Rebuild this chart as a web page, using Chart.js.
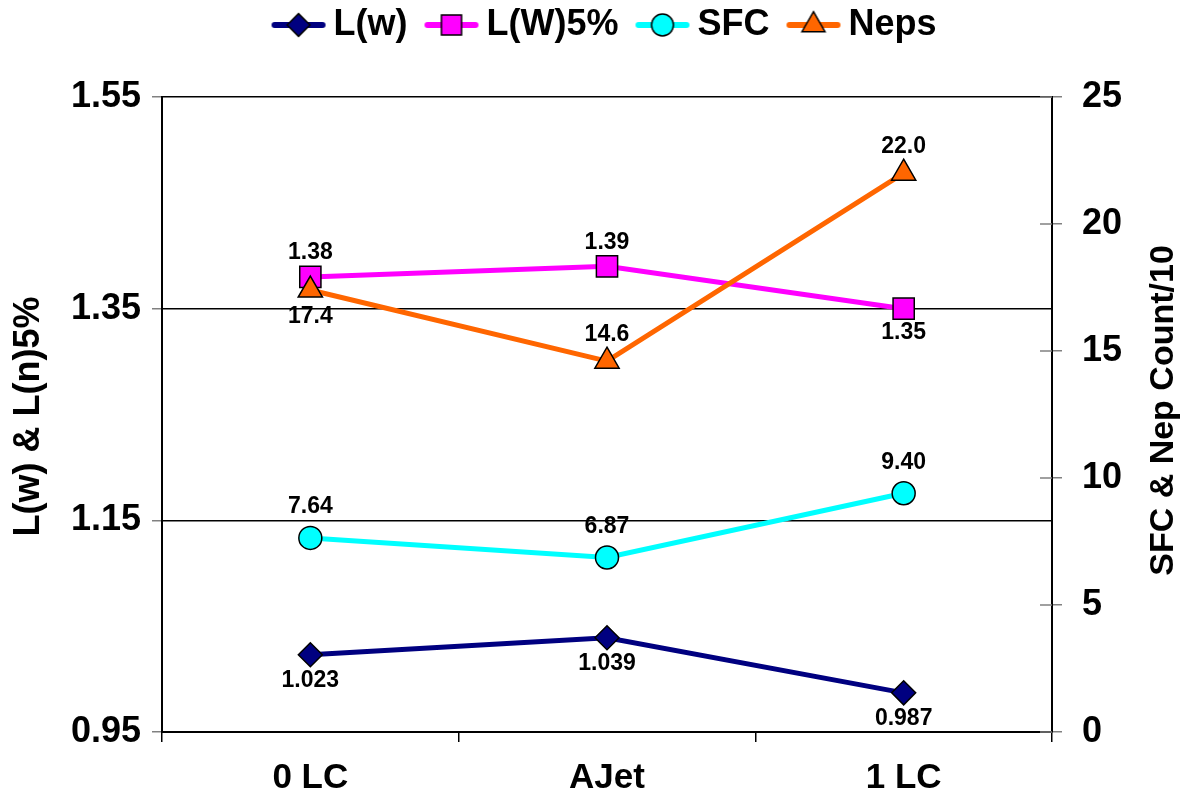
<!DOCTYPE html>
<html>
<head>
<meta charset="utf-8">
<title>Length, SFC and Neps by process</title>
<script src="https://cdn.jsdelivr.net/npm/chart.js@4.4.1/dist/chart.umd.min.js"></script>
<style>
  html, body { margin: 0; padding: 0; background: #ffffff; }
  #wrap { width: 1182px; height: 808px; position: relative; }
</style>
</head>
<body>
<div id="wrap"><canvas id="chart" width="1182" height="808"></canvas></div>
<script>
// ---- data ----
const categories = ['0 LC', 'AJet', '1 LC'];
const lengthW    = [1.023, 1.039, 0.987];   // L(w)
const lengthW5   = [1.38, 1.39, 1.35];      // L(W)5%
const sfcValues  = [7.64, 6.87, 9.40];      // SFC
const nepValues  = [17.4, 14.6, 22.0];      // Neps (count/10)
const leftTicks  = [0.95, 1.15, 1.35, 1.55];
const rightTicks = [0, 5, 10, 15, 20, 25];
const leftTitle  = 'L(w) & L(n)5%';
const rightTitle = 'SFC & Nep Count/10';

// ---- styling ----
const FONT = '"Liberation Sans", Arial, Helvetica, sans-serif';
const series = [
  { label: 'L(w)',   data: lengthW,   color: '#000080', shape: 'rectRot',  radius: 12,   axis: 'y',  digits: 3, gap: 26 },
  { label: 'L(W)5%', data: lengthW5,  color: '#FF00FF', shape: 'rect',     radius: 15,   axis: 'y',  digits: 2, gap: 24 },
  { label: 'SFC',    data: sfcValues, color: '#00FFFF', shape: 'circle',   radius: 11.5, axis: 'y2', digits: 2, gap: 31 },
  { label: 'Neps',   data: nepValues, color: '#FF6600', shape: 'triangle', radius: 14,   axis: 'y2', digits: 1, gap: 27 }
];
// +1 puts a value label under its marker, -1 above it
const labelSide = [
  [1, 1, 1],
  [-1, -1, 1],
  [-1, -1, -1],
  [1, -1, -1]
];

// small "line + marker" swatch used as the legend symbol
function legendSwatch(s) {
  const c = document.createElement('canvas');
  c.width = 56; c.height = 30;
  const g = c.getContext('2d');
  g.strokeStyle = s.color; g.lineWidth = 6; g.lineCap = 'round';
  g.beginPath(); g.moveTo(4, 15); g.lineTo(52, 15); g.stroke();
  g.fillStyle = s.color; g.strokeStyle = '#000'; g.lineWidth = 1.5;
  Chart.helpers.drawPoint(g, { pointStyle: s.shape, radius: s.radius * 0.95, rotation: 0, borderWidth: 1.5 }, 28, 15);
  return c;
}

const valueLabels = {
  id: 'valueLabels',
  afterDatasetsDraw(chart) {
    const ctx = chart.ctx;
    ctx.save();
    ctx.font = 'bold 23px ' + FONT;
    ctx.fillStyle = '#000';
    ctx.textAlign = 'center';
    ctx.textBaseline = 'middle';
    series.forEach((s, i) => {
      chart.getDatasetMeta(i).data.forEach((pt, j) => {
        const side = labelSide[i][j];
        ctx.fillText(s.data[j].toFixed(s.digits), pt.x, pt.y + side * s.gap);
      });
    });
    ctx.restore();
  }
};

// short inner half of the right-hand tick marks
const innerTicks = {
  id: 'innerTicks',
  afterDraw(chart) {
    const sc = chart.scales.y2, ctx = chart.ctx;
    ctx.save();
    ctx.strokeStyle = '#808080'; ctx.lineWidth = 1.5;
    sc.ticks.forEach(t => {
      const y = sc.getPixelForValue(t.value);
      ctx.beginPath(); ctx.moveTo(sc.left - 12, y); ctx.lineTo(sc.left, y); ctx.stroke();
    });
    ctx.restore();
  }
};

// vertical axis titles (right one reads bottom-to-top)
const axisTitles = {
  id: 'axisTitles',
  afterDraw(chart) {
    const { ctx, chartArea } = chart;
    const midY = (chartArea.top + chartArea.bottom) / 2;
    ctx.save();
    ctx.fillStyle = '#000';
    ctx.textAlign = 'center';
    ctx.textBaseline = 'middle';
    ctx.font = 'bold 36px ' + FONT;
    ctx.save(); ctx.translate(29, midY + 2); ctx.rotate(-Math.PI / 2); ctx.fillText(leftTitle, 0, 0); ctx.restore();
    ctx.font = 'bold 34px ' + FONT;
    ctx.save(); ctx.translate(1164, midY - 4); ctx.rotate(-Math.PI / 2); ctx.fillText(rightTitle, 0, 0); ctx.restore();
    ctx.restore();
  }
};

// extra room under the legend, above the plot
const legendGap = {
  id: 'legendGap',
  beforeInit(chart) {
    const lg = chart.legend;
    const fit = lg.fit;
    lg.fit = function () { fit.call(this); this.height += 44; };
  }
};

const tickFont = { family: FONT, size: 36, weight: 'bold' };

new Chart(document.getElementById('chart'), {
  type: 'line',
  data: {
    labels: categories,
    datasets: series.map((s, i) => ({
      label: s.label,
      data: s.data,
      yAxisID: s.axis,
      borderColor: s.color,
      backgroundColor: s.color,
      borderWidth: 5,
      pointStyle: s.shape,
      pointRadius: s.radius,
      pointHoverRadius: s.radius,
      pointBackgroundColor: s.color,
      pointBorderColor: '#000',
      pointBorderWidth: 1.5,
      tension: 0,
      order: 3 - i
    }))
  },
  options: {
    responsive: false,
    animation: false,
    events: [],
    layout: { padding: { top: -20, left: 36, right: 0, bottom: 0 } },
    plugins: {
      tooltip: { enabled: false },
      legend: {
        position: 'top',
        labels: {
          font: { family: FONT, size: 36, weight: 'bold' },
          color: '#000',
          usePointStyle: true,
          pointStyleWidth: 34,
          boxHeight: 30,
          padding: 27,
          generateLabels: () => series.map((s, i) => ({
            text: s.label,
            pointStyle: legendSwatch(s),
            fillStyle: s.color,
            strokeStyle: s.color,
            lineWidth: 0,
            hidden: false,
            datasetIndex: i
          }))
        }
      }
    },
    scales: {
      x: {
        type: 'category',
        offset: true,
        grid: { offset: true, drawOnChartArea: false, color: '#000', tickColor: '#000', tickLength: 10, lineWidth: 1.5 },
        border: { color: '#000', width: 2 },
        ticks: { font: { family: FONT, size: 35, weight: 'bold' }, color: '#000', padding: 15, maxRotation: 0 },
        afterFit: s => { s.height = 76; }
      },
      y: {
        position: 'left',
        min: 0.95, max: 1.55,
        afterBuildTicks: s => { s.ticks = leftTicks.map(v => ({ value: v })); },
        grid: { color: '#000', lineWidth: 1.5, tickColor: '#808080', tickLength: 10 },
        border: { color: '#000', width: 2 },
        ticks: { font: tickFont, color: '#000', padding: 11, callback: v => v.toFixed(2) },
        afterFit: s => { s.width = 126; }
      },
      y2: {
        position: 'right',
        min: 0, max: 25,
        afterBuildTicks: s => { s.ticks = rightTicks.map(v => ({ value: v })); },
        grid: { drawOnChartArea: false, tickColor: '#808080', tickLength: 10, lineWidth: 1.5 },
        border: { color: '#000', width: 2 },
        ticks: { font: tickFont, color: '#000', padding: 20, callback: v => String(v) },
        afterFit: s => { s.width = 130; }
      }
    }
  },
  plugins: [legendGap, valueLabels, innerTicks, axisTitles]
});
</script>
</body>
</html>
